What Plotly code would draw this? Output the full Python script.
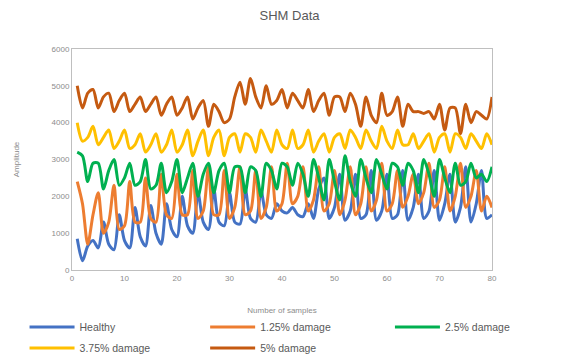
import plotly.graph_objects as go

# ---------- data ----------
samples = list(range(1, 81))

healthy = [
    850, 250, 650, 800, 600, 1300, 700, 550, 1500, 800,
    600, 1700, 900, 650, 1750, 1000, 700, 1800, 1100, 900,
    2000, 1200, 1000, 2100, 1300, 1100, 2200, 1300, 1200, 2100,
    1300, 1250, 2200, 1400, 1300, 2150, 1500, 1400, 1800, 1600,
    1550, 1700, 1500, 1450, 1800, 1400, 2200, 2500, 1400, 1700,
    2600, 1350, 1600, 2600, 1400, 1500, 2700, 1350, 1600, 2600,
    1400, 1500, 2700, 1350, 1700, 2600, 1400, 1600, 2700, 1350,
    1800, 2600, 1300, 1700, 2800, 1300, 1800, 2700, 1400, 1500,
]
dmg_125 = [
    2400, 1800, 700, 1500, 2100, 1000, 1300, 2300, 1100, 1200,
    2400, 1300, 1300, 2500, 1400, 1300, 2600, 1500, 1400, 2600,
    1500, 1500, 2700, 1400, 1600, 2800, 1500, 1500, 2700, 1400,
    1700, 2800, 1500, 1600, 2700, 1400, 1700, 2800, 1600, 1800,
    2900, 1800, 2000, 2800, 1600, 1900, 2800, 1600, 1800, 2700,
    1500, 1900, 2800, 1500, 1800, 2800, 1600, 1900, 2900, 1600,
    1800, 2700, 1700, 2000, 2600, 1800, 2100, 2900, 1700, 1900,
    2800, 1600, 2000, 2900, 1700, 2000, 2700, 1600, 2000, 1700,
]
dmg_25 = [
    3200, 3100, 2400, 2900, 2900, 2200, 2700, 3000, 2300, 2500,
    2900, 2300, 2400, 3000, 2200, 2300, 2900, 2100, 2400, 3000,
    2100, 2500, 2900, 2000, 2600, 2900, 2100, 2700, 2900, 2100,
    2800, 2800, 2100, 2800, 2700, 2000, 2900, 2700, 2200, 2900,
    2800, 2300, 2900, 2600, 2000, 3000, 2500, 1900, 3000, 2400,
    1900, 3100, 2400, 2000, 3000, 2500, 2100, 3000, 2600, 2200,
    2900, 2800, 2300, 2900, 2700, 2100, 3000, 2600, 2000, 3000,
    2500, 2100, 2900, 2300, 2400, 2900, 2500, 2600, 2400, 2800,
]
dmg_375 = [
    4000, 3500, 3600, 3900, 3400, 3600, 3800, 3300, 3500, 3800,
    3300, 3400, 3700, 3200, 3400, 3700, 3200, 3400, 3800, 3200,
    3400, 3800, 3100, 3500, 3800, 3100, 3600, 3800, 3100, 3600,
    3700, 3200, 3700, 3600, 3200, 3800, 3500, 3200, 3800, 3400,
    3300, 3800, 3300, 3400, 3800, 3200, 3500, 3700, 3200, 3600,
    3700, 3300, 3800, 3600, 3300, 3800, 3500, 3300, 3900, 3500,
    3300, 3800, 3400, 3400, 3700, 3300, 3500, 3700, 3200, 3600,
    3700, 3200, 3700, 3600, 3300, 3700, 3500, 3300, 3700, 3400,
]
dmg_5 = [
    5000, 4400, 4800, 4900, 4400, 4700, 4800, 4300, 4600, 4800,
    4300, 4500, 4700, 4300, 4500, 4700, 4200, 4500, 4700, 4200,
    4400, 4700, 4100, 4400, 4600, 3900, 4500, 4300, 4000, 4100,
    4700, 5100, 4500, 5200, 4700, 4400, 5000, 4500, 4600, 4900,
    4400, 4800, 4600, 4400, 4900, 4300, 4600, 4800, 4200, 4700,
    4700, 4300, 4800, 4500, 3900, 4700, 4200, 4000, 4800, 4200,
    4300, 4700, 3900, 4500, 4300, 4300, 4250, 4300, 4100, 4500,
    3800, 4400, 4400, 3700, 4500, 4000, 4300, 4200, 4100, 4700,
]

series = [
    ("Healthy", healthy, "#4472C4"),
    ("1.25% damage", dmg_125, "#ED7D31"),
    ("2.5% damage", dmg_25, "#00B050"),
    ("3.75% damage", dmg_375, "#FFC000"),
    ("5% damage", dmg_5, "#C55A11"),
]

# one small legend per entry so the two rows sit like the Excel legend
legend_ids = ["legend", "legend2", "legend3", "legend4", "legend5"]
legend_pos = [(-0.113, -0.258), (0.317, -0.258), (0.757, -0.258),
              (-0.113, -0.353), (0.317, -0.353)]

fig = go.Figure()
for (name, vals, col), lid in zip(series, legend_ids):
    fig.add_trace(go.Scatter(
        x=samples, y=vals, name=name, mode="lines", legend=lid,
        line=dict(color=col, width=3, shape="spline", smoothing=0.8),
    ))

legend_font = dict(family="Liberation Sans, Arial", size=10.5, color="#595959")
legends = {}
for lid, (lx, ly) in zip(legend_ids, legend_pos):
    legends[lid] = dict(orientation="h", x=lx, xanchor="left", y=ly, yanchor="middle",
                        font=legend_font, itemwidth=45, bgcolor="rgba(0,0,0,0)")

axis_font = dict(family="Liberation Sans, Arial", size=8, color="#8C8C8C")
# page body has an 8px margin, so the figure is 8px smaller and shifted
fig.update_layout(
    width=563, height=355,
    margin=dict(l=64, r=79, t=41, b=93, autoexpand=False),
    paper_bgcolor="white", plot_bgcolor="white",
    title=dict(text="SHM Data", x=0.5, xanchor="center", y=0.978, yanchor="middle",
               font=dict(family="Liberation Sans, Arial", size=13, color="#595959")),
    showlegend=True,
    **legends,
)
fig.update_xaxes(
    range=[0, 80], dtick=10, showgrid=False, zeroline=False,
    showline=True, linecolor="#BFBFBF", linewidth=1, mirror=True,
    tickfont=axis_font, ticks="",
    title=dict(text="Number of samples", font=axis_font, standoff=25),
)
fig.update_yaxes(
    range=[0, 6000], dtick=1000, showgrid=False, zeroline=False,
    showline=True, linecolor="#BFBFBF", linewidth=1, mirror=True,
    tickfont=axis_font, ticks="",
    title=dict(text="Amplitude", font=axis_font, standoff=30),
)

fig.write_html("out.html")
